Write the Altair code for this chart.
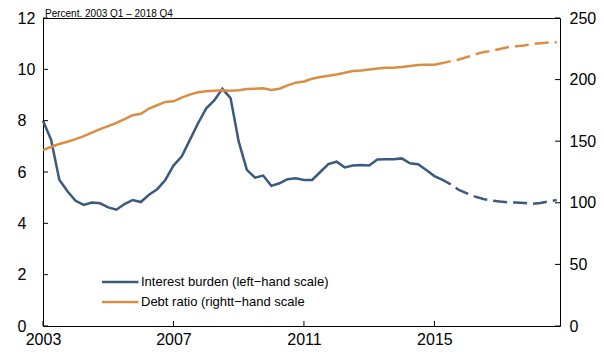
import altair as alt
import pandas as pd

# ---- data (quarterly, 2003 Q1 - 2018 Q4) ----
years = list(range(2003, 2019))
quarters = [1, 2, 3, 4]

interest_burden = [
    8.00, 7.25, 5.70, 5.25,
    4.88, 4.72, 4.81, 4.78,
    4.62, 4.53, 4.75, 4.91,
    4.83, 5.11, 5.33, 5.69,
    6.25, 6.60, 7.24, 7.89,
    8.47, 8.79, 9.24, 8.88,
    7.18, 6.08, 5.78, 5.86,
    5.46, 5.56, 5.72, 5.76,
    5.69, 5.69, 6.00, 6.31,
    6.40, 6.18, 6.25, 6.27,
    6.25, 6.49, 6.50, 6.50,
    6.53, 6.34, 6.30, 6.08,
    5.84, 5.69, 5.52, 5.30,
    5.17, 5.04, 4.95, 4.89,
    4.85, 4.82, 4.81, 4.79,
    4.76, 4.79, 4.85, 4.91,
]

debt_ratio = [
    142.8, 145.5, 147.7, 149.6,
    151.7, 154.1, 156.9, 159.8,
    162.2, 164.9, 167.9, 171.1,
    172.2, 176.5, 179.2, 181.9,
    182.4, 185.4, 187.8, 189.7,
    190.5, 191.0, 191.3, 191.0,
    191.3, 192.4, 192.6, 192.9,
    191.6, 192.6, 195.3, 197.5,
    198.5, 200.7, 202.1, 203.1,
    204.2, 205.6, 206.9, 207.4,
    208.2, 209.1, 209.6, 209.6,
    210.2, 211.0, 211.8, 212.0,
    212.0, 213.4, 215.0, 216.3,
    218.3, 220.4, 222.3, 223.3,
    224.9, 226.3, 227.1, 227.6,
    229.0, 229.6, 230.1, 230.4,
]

last_actual_index = 50  # 2015 Q3; projections afterwards

x_ticks = [2003, 2007, 2011, 2015]
left_ticks = [0, 2, 4, 6, 8, 10, 12]
right_ticks = [0, 50, 100, 150, 200, 250]

title_text = "Percent. 2003 Q1 \u2013 2018 Q4"
label_interest = "Interest burden (left\u2212hand scale)"
label_debt = "Debt ratio (rightt\u2212hand scale"

BLUE = "#3b5a7f"
ORANGE = "#d98e44"
FONT = "Liberation Sans"

W, H = 517, 308

t = [y + (q - 1) / 4 for y in years for q in quarters]
df = pd.DataFrame({"t": t, "interest": interest_burden, "debt": debt_ratio})
hist = df.iloc[: last_actual_index + 1]
proj = df.iloc[last_actual_index:]

x_scale = alt.Scale(domain=[2003, 2018.85], nice=False, zero=False)
x_axis = alt.Axis(values=x_ticks, format="d", title=None, ticks=False, domain=False,
                  grid=False, labelFlush=False, labelOverlap=False, labelPadding=5,
                  labelFontSize=16, labelColor="black", labelFont=FONT)

yl_scale = alt.Scale(domain=[0, 12], nice=False, zero=True)
yl_axis = alt.Axis(orient="left", values=left_ticks, title=None, ticks=False, domain=False,
                   grid=False, labelAlign="left", labelPadding=26, labelFontSize=16,
                   labelColor="black", labelFont=FONT)

yr_scale = alt.Scale(domain=[0, 250], nice=False, zero=True)
yr_axis = alt.Axis(orient="right", values=right_ticks, title=None, ticks=False, domain=False,
                   grid=False, labelAlign="left", labelPadding=9, labelFontSize=16,
                   labelColor="black", labelFont=FONT)

X = alt.X("t:Q", scale=x_scale, axis=x_axis)

blue_hist = alt.Chart(hist).mark_line(color=BLUE, strokeWidth=2.5).encode(
    x=X, y=alt.Y("interest:Q", scale=yl_scale, axis=yl_axis))
blue_proj = alt.Chart(proj).mark_line(color=BLUE, strokeWidth=2.5, strokeDash=[14, 6],
                                      strokeDashOffset=14).encode(
    x=X, y=alt.Y("interest:Q", scale=yl_scale, axis=yl_axis))

lt_df = pd.DataFrame({"v": left_ticks})
left_tick_marks = alt.Chart(lt_df).mark_rule(color="black", strokeWidth=1).encode(
    y=alt.Y("v:Q", scale=yl_scale, axis=yl_axis), x=alt.value(0), x2=alt.value(5))

xt_df = pd.DataFrame({"t": x_ticks})
x_tick_marks = alt.Chart(xt_df).mark_rule(color="black", strokeWidth=1).encode(
    x=X, y=alt.value(H), y2=alt.value(H - 5))

one = pd.DataFrame({"k": [0]})
title_mark = alt.Chart(one).mark_text(align="left", baseline="alphabetic", font=FONT,
                                      fontSize=10, color="black").encode(
    x=alt.value(2), y=alt.value(-1.5), text=alt.value(title_text))

leg_rule1 = alt.Chart(one).mark_rule(color=BLUE, strokeWidth=2.5).encode(
    x=alt.value(59), x2=alt.value(95.5), y=alt.value(264))
leg_rule2 = alt.Chart(one).mark_rule(color=ORANGE, strokeWidth=2.5).encode(
    x=alt.value(59), x2=alt.value(95.5), y=alt.value(284))
leg_text1 = alt.Chart(one).mark_text(align="left", baseline="middle", font=FONT,
                                     fontSize=13, color="black").encode(
    x=alt.value(98), y=alt.value(264), text=alt.value(label_interest))
leg_text2 = alt.Chart(one).mark_text(align="left", baseline="middle", font=FONT,
                                     fontSize=13, color="black").encode(
    x=alt.value(98), y=alt.value(284), text=alt.value(label_debt))

orange_hist = alt.Chart(hist).mark_line(color=ORANGE, strokeWidth=2.5).encode(
    x=X, y=alt.Y("debt:Q", scale=yr_scale, axis=yr_axis))
orange_proj = alt.Chart(proj).mark_line(color=ORANGE, strokeWidth=2.5, strokeDash=[14, 6],
                                        strokeDashOffset=14).encode(
    x=X, y=alt.Y("debt:Q", scale=yr_scale, axis=yr_axis))

rt_df = pd.DataFrame({"v": right_ticks})
right_tick_marks = alt.Chart(rt_df).mark_rule(color="black", strokeWidth=1).encode(
    y=alt.Y("v:Q", scale=yr_scale, axis=yr_axis), x=alt.value(W - 5), x2=alt.value(W))

left_layer = alt.layer(blue_hist, blue_proj, left_tick_marks, x_tick_marks, title_mark,
                       leg_rule1, leg_rule2, leg_text1, leg_text2)
right_layer = alt.layer(orange_hist, orange_proj, right_tick_marks)

chart = (
    alt.layer(left_layer, right_layer)
    .resolve_scale(y="independent")
    .properties(
        width=W, height=H,
        autosize=alt.AutoSizeParams(type="none"),
        padding={"left": 35, "top": 10, "right": 36, "bottom": 22},
        background="white",
    )
    .configure_view(stroke="black", strokeWidth=1)
)

chart.save("out.html", embed_options={"renderer": "svg", "actions": False})
